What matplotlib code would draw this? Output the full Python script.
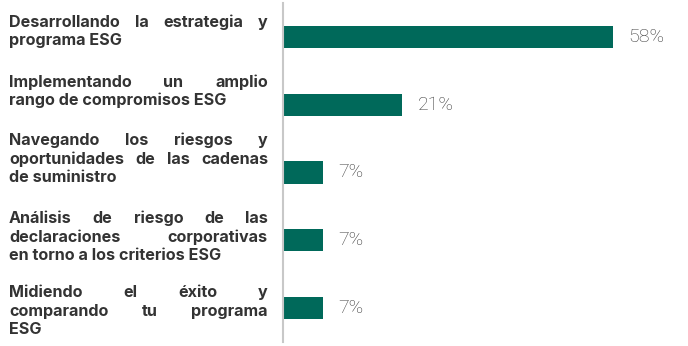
import matplotlib
matplotlib.use("Agg")
import matplotlib.pyplot as plt

# ---- data ----
categories = [
    ["Desarrollando la estrategia y", "programa ESG"],
    ["Implementando un amplio", "rango de compromisos ESG"],
    ["Navegando los riesgos y", "oportunidades de las cadenas", "de suministro"],
    ["Análisis de riesgo de las", "declaraciones corporativas", "en torno a los criterios ESG"],
    ["Midiendo el éxito y", "comparando tu programa", "ESG"],
]
values = [58, 21, 7, 7, 7]
value_labels = [f"{v}%" for v in values]

# ---- layout (pixels) ----
W, H, DPI = 688, 346, 100
label_first_baseline_offset = [-10, -18, -27, -17, -11]  # relative to bar centre
line_gap = 18.5
text_x0, text_x1 = 9, 268

bar_color = "#00695a"
label_color = "#333333"
value_color = "#3a3a3a"

fig = plt.figure(figsize=(W / DPI, H / DPI), dpi=DPI)
ax = fig.add_axes([283 / W, 4 / H, 398 / W, 339 / H])

y = list(range(len(values)))
ax.barh(y, values, height=0.325, color=bar_color)
ax.set_ylim(len(values) - 0.5, -0.5)
ax.set_xlim(0, 70)
for s in ["top", "right", "bottom"]:
    ax.spines[s].set_visible(False)
ax.spines["left"].set_color("#c8c8c8")
ax.spines["left"].set_linewidth(1.5)
ax.set_xticks([])
ax.set_yticks([])

val_family = ["Roboto", "DejaVu Sans"]
for v, i, t in zip(values, y, value_labels):
    ax.annotate(t, (v, i), xytext=(15, 0), textcoords="offset pixels",
                va="center", ha="left", fontsize=14, color=value_color,
                family=val_family, fontweight="light")

# ---- justified labels ----
fig.canvas.draw()
renderer = fig.canvas.get_renderer()
lab_family = ["Inter", "DejaVu Sans"]
fs = 11.6
lab_weight = "bold"

def px2fig(xp, yp):
    return xp / W, 1 - yp / H

for i, lines in enumerate(categories):
    _, yc_disp = ax.transData.transform((0, i))
    yc = H - yc_disp
    base = yc + label_first_baseline_offset[i]
    for k, line in enumerate(lines):
        yb = base + k * line_gap
        words = line.split(" ")
        last = (k == len(lines) - 1)
        if last or len(words) == 1:
            fx, fy = px2fig(text_x0, yb)
            fig.text(fx, fy, line, ha="left", va="baseline", fontsize=fs,
                     fontweight=lab_weight, color=label_color, family=lab_family)
            continue
        texts = []
        widths = []
        for w in words:
            t = fig.text(0, 0, w, ha="left", va="baseline", fontsize=fs,
                         fontweight=lab_weight, color=label_color, family=lab_family)
            bb = t.get_window_extent(renderer=renderer)
            texts.append(t)
            widths.append(bb.width)
        gap = (text_x1 - text_x0 - sum(widths)) / (len(words) - 1)
        xp = text_x0
        for t, wd in zip(texts, widths):
            t.set_position(px2fig(xp, yb))
            xp += wd + gap

fig.savefig("out.png", dpi=DPI)
